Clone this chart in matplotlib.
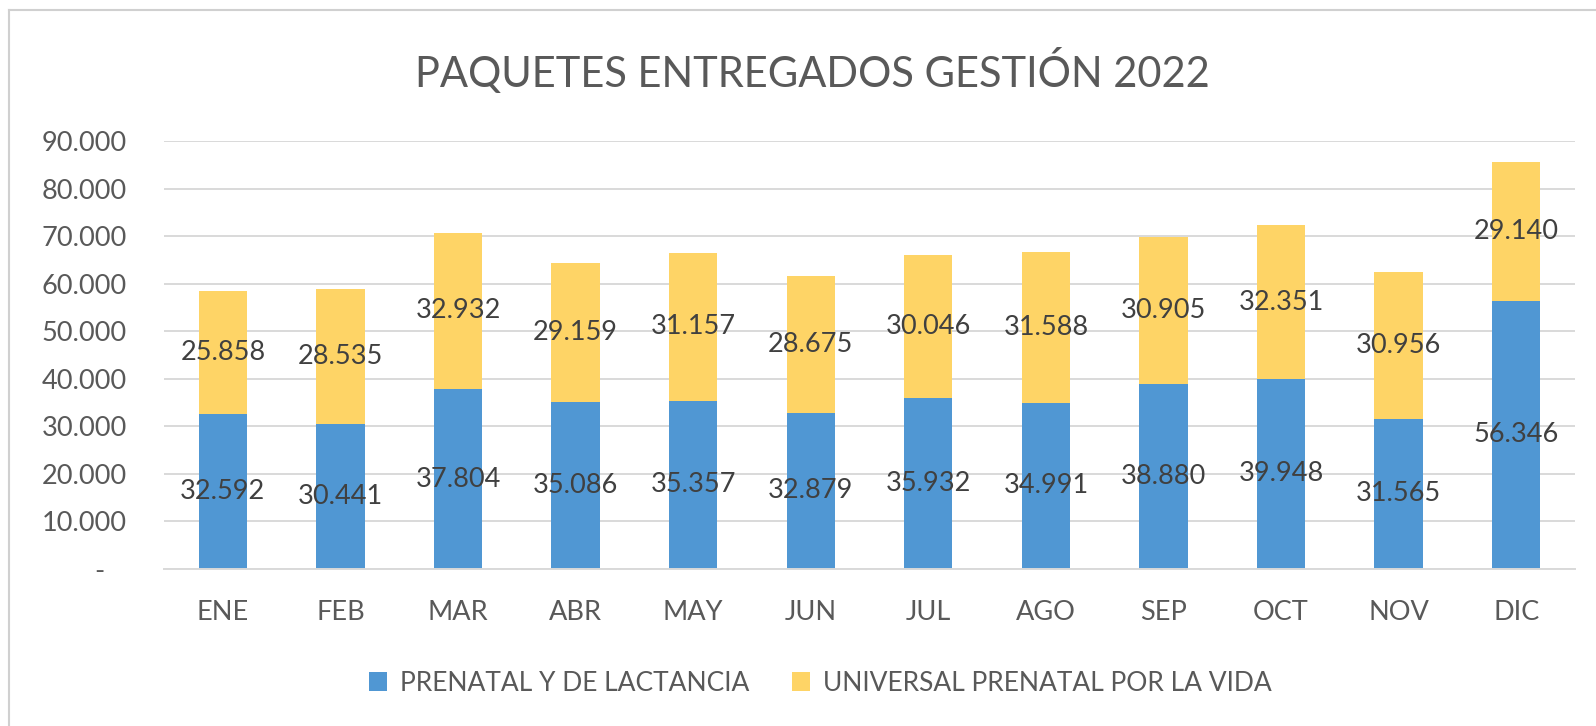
import numpy as np
import matplotlib
matplotlib.use("Agg")
import matplotlib.pyplot as plt
from matplotlib.lines import Line2D
from matplotlib.patches import Patch
from matplotlib.ticker import FuncFormatter

plt.rcParams['font.family'] = ['Lato', 'DejaVu Sans']

# -----------------------------------------------------------
# Data
# -----------------------------------------------------------
months = ["ENE", "FEB", "MAR", "ABR", "MAY", "JUN",
          "JUL", "AGO", "SEP", "OCT", "NOV", "DIC"]
prenatal = [32592, 30441, 37804, 35086, 35357, 32879,
            35932, 34991, 38880, 39948, 31565, 56346]
universal = [25858, 28535, 32932, 29159, 31157, 28675,
             30046, 31588, 30905, 32351, 30956, 29140]
series_names = ["PRENATAL Y DE LACTANCIA", "UNIVERSAL PRENATAL POR LA VIDA"]
title = "PAQUETES ENTREGADOS GESTIÓN 2022"

BLUE = '#5097D3'
YELLOW = '#FED466'
GRID = '#D9D9D9'
TXT = '#595959'
LBL = '#404040'


def thousands(v, pos):
    """Excel style number format with dot separator and dash for zero."""
    if v == 0:
        return "-   "
    return f"{int(v):,}".replace(",", ".")


fig = plt.figure(figsize=(15.96, 7.26), dpi=100)
ax = fig.add_axes([0.1028, 0.2163, 0.884, 0.5895])

x = np.arange(len(months))
bars1 = ax.bar(x, prenatal, width=0.41, color=BLUE, zorder=2)
bars2 = ax.bar(x, universal, width=0.41, bottom=prenatal, color=YELLOW, zorder=2)

# Data labels, centered in each segment
for i in range(len(months)):
    ax.text(x[i], prenatal[i] / 2, thousands(prenatal[i], None),
            ha='center', va='center', fontsize=19.5, color=LBL, zorder=3)
    ax.text(x[i], prenatal[i] + universal[i] / 2, thousands(universal[i], None),
            ha='center', va='center', fontsize=19.5, color=LBL, zorder=3)

# Axes styling
ax.set_xlim(-0.5, len(months) - 0.5)
ax.set_ylim(0, 90000)
ax.set_yticks(np.arange(0, 90001, 10000))
ax.yaxis.set_major_formatter(FuncFormatter(thousands))
ax.set_xticks(x)
ax.set_xticklabels(months)
ax.grid(axis='y', color=GRID, linewidth=1.4, zorder=0)
for s in ['top', 'right', 'left']:
    ax.spines[s].set_visible(False)
ax.spines['bottom'].set_color(GRID)
ax.spines['bottom'].set_linewidth(1.4)
ax.tick_params(axis='y', length=0, pad=27, labelsize=19.5, labelcolor=TXT)
ax.tick_params(axis='x', length=0, pad=22, labelsize=19.5, labelcolor=TXT)

# Title
fig.text(0.509, 0.902, title, ha='center', va='center', fontsize=30, color=TXT)

# Legend
handles = [Patch(facecolor=BLUE, edgecolor='none'),
           Patch(facecolor=YELLOW, edgecolor='none')]
fig.legend(handles, series_names, loc='center', bbox_to_anchor=(0.514, 0.059),
           ncol=2, frameon=False, fontsize=19, labelcolor=TXT,
           handlelength=0.7, handleheight=0.7, handletextpad=0.5,
           columnspacing=1.6)

# Chart frame (only the top and left edges are visible in the crop)
fig.add_artist(Line2D([9 / 1596, 1], [1 - 10 / 726, 1 - 10 / 726],
                      transform=fig.transFigure, color='#D0D0D0', lw=1.5))
fig.add_artist(Line2D([9 / 1596, 9 / 1596], [0, 1 - 10 / 726],
                      transform=fig.transFigure, color='#D0D0D0', lw=1.5))

fig.savefig("out.png", dpi=100, facecolor='white')
